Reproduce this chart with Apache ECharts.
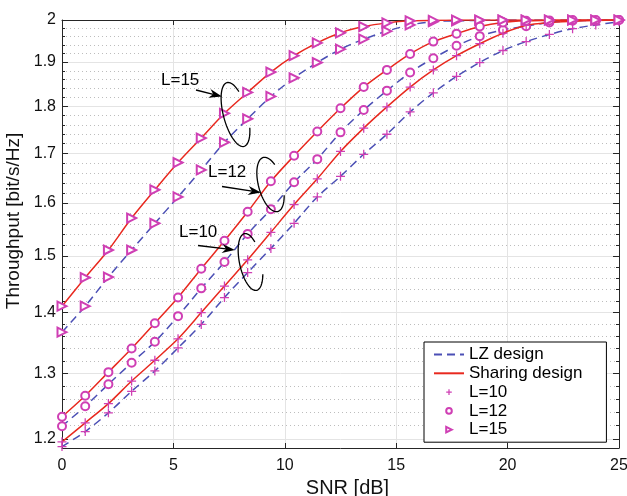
<!DOCTYPE html>
<html><head><meta charset="utf-8">
<script src="https://cdn.jsdelivr.net/npm/echarts@6/dist/echarts.min.js"></script>
<style>html,body{margin:0;padding:0;background:#fff}#c{width:627px;height:496px}</style>
</head><body><div id="c"></div>
<script>
// SNR sample points (dB)
const snr = [0, 1.042, 2.083, 3.125, 4.167, 5.208, 6.25, 7.292, 8.333, 9.375, 10.417, 11.458, 12.5,
  13.542, 14.583, 15.625, 16.667, 17.708, 18.75, 19.792, 20.833, 21.875, 22.917, 23.958, 25];

// Throughput values
const lzL10 = [1.189, 1.211, 1.239, 1.272, 1.304, 1.341, 1.380, 1.426, 1.470, 1.514, 1.561, 1.612, 1.653,
  1.698, 1.740, 1.788, 1.830, 1.867, 1.899, 1.927, 1.948, 1.965, 1.979, 1.988, 1.996];
const shL10 = [1.196, 1.224, 1.253, 1.288, 1.321, 1.356, 1.400, 1.446, 1.493, 1.544, 1.597, 1.648, 1.704,
  1.753, 1.799, 1.843, 1.882, 1.915, 1.943, 1.968, 1.987, 1.994, 1.997, 1.999, 2.0];
const lzL12 = [1.219, 1.249, 1.283, 1.317, 1.351, 1.394, 1.442, 1.489, 1.541, 1.588, 1.641, 1.688, 1.744,
  1.792, 1.835, 1.876, 1.909, 1.938, 1.961, 1.976, 1.985, 1.994, 1.998, 1.999, 2.0];
const shL12 = [1.233, 1.265, 1.302, 1.340, 1.382, 1.426, 1.477, 1.528, 1.583, 1.643, 1.695, 1.746, 1.796,
  1.843, 1.882, 1.919, 1.948, 1.967, 1.984, 1.994, 1.998, 1.999, 2.0, 2.0, 2.0];
const lzL15 = [1.367, 1.411, 1.462, 1.511, 1.561, 1.612, 1.666, 1.723, 1.773, 1.822, 1.864, 1.899, 1.930,
  1.954, 1.973, 1.988, 1.996, 1.998, 1.999, 2.0, 2.0, 2.0, 2.0, 2.0, 2.0];
const shL15 = [1.411, 1.461, 1.511, 1.571, 1.626, 1.681, 1.732, 1.785, 1.831, 1.877, 1.915, 1.945, 1.969,
  1.984, 1.993, 1.998, 1.999, 2.0, 2.0, 2.0, 2.0, 2.0, 2.0, 2.0, 2.0];

// Axis ticks
const xTicks = [0, 5, 10, 15, 20, 25];
const yTicks = [1.2, 1.3, 1.4, 1.5, 1.6, 1.7, 1.8, 1.9, 2];
const yMinor = [1.22, 1.24, 1.26, 1.28, 1.32, 1.34, 1.36, 1.38, 1.42, 1.44, 1.46, 1.48,
  1.52, 1.54, 1.56, 1.58, 1.62, 1.64, 1.66, 1.68, 1.72, 1.74, 1.76, 1.78,
  1.82, 1.84, 1.86, 1.88, 1.92, 1.94, 1.96, 1.98];
const legendNames = ['LZ design', 'Sharing design', 'L=10', 'L=12', 'L=15'];

const FONT = "'Liberation Sans', Arial, Helvetica, sans-serif";
const RED = '#e8291f', BLUE = '#4b4fb5', MAG = '#cf3fb4', AX = '#262626';
const CROSS = 'path://M-1.4,-10 H1.4 V-1.4 H10 V1.4 H1.4 V10 H-1.4 V1.4 H-10 V-1.4 H-1.4 Z';
const CROSS_BOLD = 'path://M-2.2,-10 H2.2 V-2.2 H10 V2.2 H2.2 V10 H-2.2 V2.2 H-10 V-2.2 H-2.2 Z';
const TRI = 'emptyTriangle';

const chart = echarts.init(document.getElementById('c'), null, {renderer: 'canvas'});

function pairs(v) { return snr.map((x, i) => [x, v[i]]); }
function dataSeries(name, vals, dashed, sym) {
  return {
    name: name, type: 'line', data: pairs(vals), smooth: 0.3,
    showAllSymbol: true, symbol: sym.symbol, symbolSize: sym.size, symbolRotate: sym.rotate || 0,
    lineStyle: {color: dashed ? BLUE : RED, width: 1.5, type: dashed ? [8, 5] : 'solid'},
    itemStyle: {color: MAG, borderColor: MAG, borderWidth: sym.bw},
    z: dashed ? 3 : 4, animation: false, silent: true
  };
}
const symCross = {symbol: CROSS, size: 9, bw: 0};
const symCircle = {symbol: 'emptyCircle', size: 8, bw: 1.5};
const symTri = {symbol: TRI, size: 9, bw: 1.5, rotate: -90};

const yBase = {type: 'log', logBase: 10, min: 1.187, max: 2};
const gridSplit = {show: true, lineStyle: {color: '#e4e4e4', width: 1}};

const option = {
  backgroundColor: '#fff',
  animation: false,
  grid: {left: 62, right: 8, top: 20, bottom: 48, containLabel: false, outerBoundsMode: 'none'},
  xAxis: [
    {type: 'value', min: 0, max: 25, interval: 5, position: 'bottom',
     axisLine: {show: true, onZero: false, lineStyle: {color: AX, width: 1}},
     axisTick: {show: true, inside: true, length: 5, lineStyle: {color: AX}},
     axisLabel: {fontSize: 16, color: '#111', fontFamily: FONT, margin: 10},
     splitLine: gridSplit,
     name: 'SNR [dB]', nameLocation: 'middle', nameGap: 22,
     nameTextStyle: {fontSize: 20, color: '#111', fontFamily: FONT, padding: [0, 0, 0, 14]}},
    {type: 'value', min: 0, max: 25, interval: 5, position: 'top',
     axisLine: {show: true, onZero: false, lineStyle: {color: AX, width: 1}},
     axisTick: {show: true, inside: true, length: 5, lineStyle: {color: AX}},
     axisLabel: {show: false}, splitLine: {show: false}}
  ],
  yAxis: [
    Object.assign({}, yBase, {position: 'left',
      axisLine: {show: true, onZero: false, lineStyle: {color: AX, width: 1}},
      axisTick: {show: true, inside: true, length: 6, customValues: yTicks, lineStyle: {color: AX}},
      axisLabel: {customValues: yTicks, fontSize: 16, color: '#111', fontFamily: FONT, margin: 6,
        formatter: v => String(Math.round(v * 10) / 10)},
      splitLine: gridSplit,
      name: 'Throughput [bit/s/Hz]', nameLocation: 'middle', nameGap: 24,
      nameTextStyle: {fontSize: 19, color: '#111', fontFamily: FONT, padding: [0, 0, 0, 26]}}),
    Object.assign({}, yBase, {position: 'left',
      axisLine: {show: false, onZero: false},
      axisTick: {show: true, inside: true, length: 3, customValues: yMinor, lineStyle: {color: AX}},
      axisLabel: {show: false, customValues: yMinor},
      splitLine: {show: true, lineStyle: {color: '#bdbdbd', width: 1, type: [1, 3]}}}),
    Object.assign({}, yBase, {position: 'right',
      axisLine: {show: true, onZero: false, lineStyle: {color: AX, width: 1}},
      axisTick: {show: true, inside: true, length: 6, customValues: yTicks, lineStyle: {color: AX}},
      axisLabel: {show: false, customValues: yTicks}, splitLine: {show: false}}),
    Object.assign({}, yBase, {position: 'right',
      axisLine: {show: false, onZero: false},
      axisTick: {show: true, inside: true, length: 3, customValues: yMinor, lineStyle: {color: AX}},
      axisLabel: {show: false, customValues: yMinor}, splitLine: {show: false}})
  ],
  legend: {
    orient: 'vertical', left: 424, top: 342, selectedMode: false,
    data: [
      {name: legendNames[0], itemStyle: {opacity: 0}},
      {name: legendNames[1], itemStyle: {opacity: 0}},
      {name: legendNames[2]},
      {name: legendNames[3]},
      {name: legendNames[4]}
    ],
    itemWidth: 30, itemHeight: 7, itemGap: 1.8,
    backgroundColor: '#fff', borderColor: '#000', borderWidth: 1, borderRadius: 0,
    padding: [4, 24, 4, 9],
    textStyle: {fontSize: 17, lineHeight: 16, color: '#000', fontFamily: FONT}
  },
  series: [
    dataSeries('lz10', lzL10, true, symCross),
    dataSeries('sh10', shL10, false, symCross),
    dataSeries('lz12', lzL12, true, symCircle),
    dataSeries('sh12', shL12, false, symCircle),
    dataSeries('lz15', lzL15, true, symTri),
    dataSeries('sh15', shL15, false, symTri),
    {name: 'LZ design', type: 'line', data: [], symbol: 'none',
     lineStyle: {color: BLUE, width: 1.5, type: [8, 5]}, itemStyle: {color: BLUE}},
    {name: 'Sharing design', type: 'line', data: [], symbol: 'none',
     lineStyle: {color: RED, width: 1.5}, itemStyle: {color: RED}},
    {name: 'L=10', type: 'line', data: [], symbol: CROSS_BOLD, symbolSize: 7,
     lineStyle: {width: 0, opacity: 0}, itemStyle: {color: MAG, borderWidth: 0}},
    {name: 'L=12', type: 'line', data: [], symbol: 'emptyCircle', symbolSize: 6,
     lineStyle: {width: 0, opacity: 0}, itemStyle: {color: MAG, borderColor: MAG, borderWidth: 1.5}},
    {name: 'L=15', type: 'line', data: [], symbol: TRI, symbolSize: 7, symbolRotate: -90,
     lineStyle: {width: 0, opacity: 0}, itemStyle: {color: MAG, borderColor: MAG, borderWidth: 1.5}}
  ]
};
chart.setOption(option);

// Annotations (ellipses with arrows and labels), in pixel space
function ellipsePts(cx, cy, a, b, rotDeg, t0, t1) {
  const pts = [], phi = rotDeg * Math.PI / 180;
  for (let t = t0; t <= t1; t += 5) {
    const r = t * Math.PI / 180;
    const x = b * Math.cos(r), y = a * Math.sin(r);
    pts.push([cx + x * Math.cos(phi) - y * Math.sin(phi), cy + x * Math.sin(phi) + y * Math.cos(phi)]);
  }
  return pts;
}
function arrow(x0, y0, x1, y1) {
  const dx = x1 - x0, dy = y1 - y0, L = Math.hypot(dx, dy);
  const ux = dx / L, uy = dy / L, nx = -uy, ny = ux;
  const hl = 13, hw = 4.5, notch = 9;
  return [
    {type: 'line', shape: {x1: x0, y1: y0, x2: x1 - ux * notch, y2: y1 - uy * notch},
     style: {stroke: '#000', lineWidth: 1.3}, silent: true, z: 20},
    {type: 'polygon', shape: {points: [[x1, y1], [x1 - ux * hl + nx * hw, y1 - uy * hl + ny * hw],
      [x1 - ux * notch, y1 - uy * notch], [x1 - ux * hl - nx * hw, y1 - uy * hl - ny * hw]]},
     style: {fill: '#000'}, silent: true, z: 20}
  ];
}
const annos = [
  {label: 'L=15', tx: 161, ty: 81, ar: [196, 90, 222, 96.5], el: [235.5, 114.5, 33, 12, -15]},
  {label: 'L=12', tx: 208, ty: 173, ar: [222, 186.5, 261, 192.5], el: [270.5, 184.5, 28, 12, -15]},
  {label: 'L=10', tx: 179, ty: 233, ar: [198, 245.5, 235, 250], el: [250.5, 262, 29, 11, -12]}
];
const graphics = [];
annos.forEach(a => {
  graphics.push({type: 'text', left: a.tx, top: a.ty - 9, silent: true, z: 20,
    style: {text: a.label, fontSize: 17, fontFamily: FONT, fill: '#000'}});
  arrow(a.ar[0], a.ar[1], a.ar[2], a.ar[3]).forEach(g => graphics.push(g));
  graphics.push({type: 'polyline', silent: true, z: 20,
    shape: {points: ellipsePts(a.el[0], a.el[1], a.el[2], a.el[3], a.el[4], 30, 320)},
    style: {stroke: '#000', lineWidth: 1.3, fill: null}});
});
chart.setOption({graphic: graphics});
</script>
</body></html>
